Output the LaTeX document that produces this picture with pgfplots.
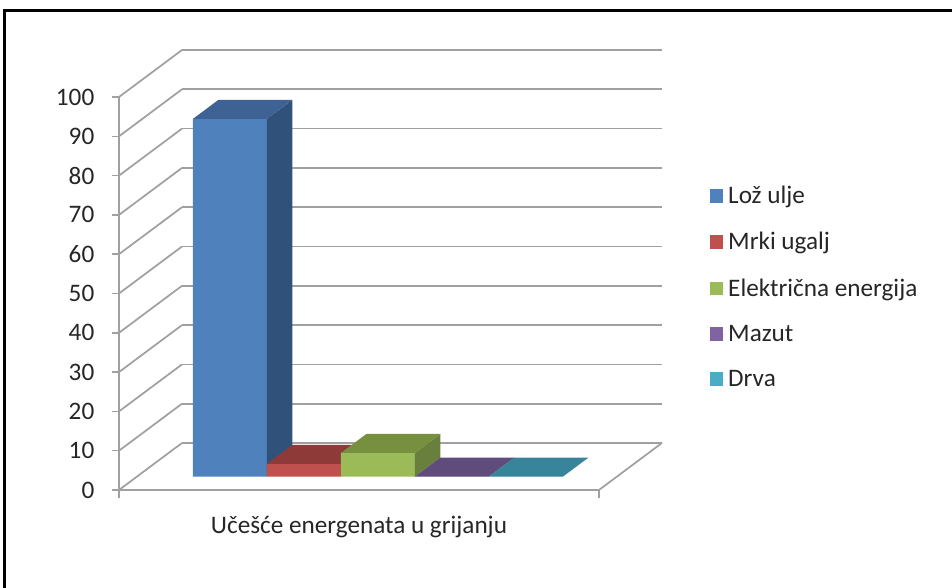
\documentclass[border=0pt]{standalone}
\usepackage{fontspec}
\setmainfont{Carlito}
\usepackage{pgfplots}
\pgfplotsset{compat=1.18}

\definecolor{gridc}{HTML}{A0A0A0}
\definecolor{txt}{HTML}{262626}
\definecolor{bfront}{HTML}{4F81BD}
\definecolor{btop}{HTML}{3D6293}
\definecolor{bside}{HTML}{30527A}
\definecolor{rfront}{HTML}{C0504D}
\definecolor{rtop}{HTML}{8E3A38}
\definecolor{rside}{HTML}{7F3331}
\definecolor{gfront}{HTML}{9BBB59}
\definecolor{gtop}{HTML}{76903F}
\definecolor{gside}{HTML}{687F3D}
\definecolor{pfront}{HTML}{8064A2}
\definecolor{ptop}{HTML}{604B7D}
\definecolor{pside}{HTML}{54426E}
\definecolor{tfront}{HTML}{4BACC6}
\definecolor{ttop}{HTML}{38849B}
\definecolor{tside}{HTML}{307488}

% one bar: x0, x1, value, front colour, top colour, side colour
\newcommand{\onebar}[6]{%
  \addplot3[fill=#4, draw=none] coordinates {(#1,0.287,0) (#2,0.287,0) (#2,0.287,#3) (#1,0.287,#3) (#1,0.287,0)};
  \addplot3[fill=#6, draw=none, forget plot] coordinates {(#2,0.287,0) (#2,0.69,0) (#2,0.69,#3) (#2,0.287,#3) (#2,0.287,0)};
  \addplot3[fill=#5, draw=none, forget plot] coordinates {(#1,0.287,#3) (#2,0.287,#3) (#2,0.69,#3) (#1,0.69,#3) (#1,0.287,#3)};
}

\begin{document}
\begin{tikzpicture}
\path[use as bounding box] (0pt,0pt) rectangle (714pt,441pt);
\draw[black, line width=1.8pt] (3.5pt,-20pt) rectangle (740pt,433pt);
\begin{axis}[
    at={(89.25pt,73.5pt)}, anchor=origin,
    x={(55.5pt,0pt)}, y={(47.25pt,35.25pt)}, z={(0pt,2.9475pt)},
    xmin=0, xmax=6.486, ymin=0, ymax=1, zmin=0, zmax=100,
    clip=false,
    axis line style={draw=none},
    ztick={0,10,...,100},
    ztick pos=left,
    zmajorgrids,
    major grid style={gridc, line width=1.3pt},
    zticklabel pos=left,
    ytick=\empty,
    xtick={3.243},
    xticklabels={Učešće energenata u grijanju},
    tick style={draw=none},
    major tick length=0pt,
    tick label style={font=\fontsize{18.9}{20}\selectfont, text=txt},
    zticklabel style={anchor=east, xshift=-15pt, yshift=0pt},
    xticklabel style={anchor=north, xshift=0pt, yshift=-16pt},
    /pgf/number format/assume math mode=true,
    legend style={at={(1.081,0.461)}, anchor=west, draw=none, fill=none,
      font=\fontsize{18.9}{20}\selectfont, text=txt,
      row sep=16.2pt, cells={anchor=west}},
    legend image code/.code={\fill[#1] (0pt,-5.2pt) rectangle (9.75pt,5.2pt); \path (0pt,0pt) -- (11.5pt,0pt);},
]
% floor edges and the value axis
\addplot3[gridc, line width=1.3pt, forget plot] coordinates {(0,0,0) (6.486,0,0) (6.486,1,0)};
\addplot3[gridc, line width=1.3pt, forget plot] coordinates {(0,0,0) (0,0,100)};
% the marks: left of the value axis and under the floor's front edge
\pgfplotsinvokeforeach{0,10,...,100}{
  \draw[gridc, line width=1.1pt] (axis cs:0,0,#1) -- ++(-5pt,0pt);
}
\draw[gridc, line width=1.3pt] (axis cs:0,0,0) -- ++(0pt,-6pt);
\draw[gridc, line width=1.3pt] (axis cs:6.486,0,0) -- ++(0pt,-6pt);

\onebar{0.755}{1.755}{91}{bfront}{btop}{bside}
\onebar{1.755}{2.755}{3.2}{rfront}{rtop}{rside}
\onebar{2.755}{3.755}{6}{gfront}{gtop}{gside}
\onebar{3.755}{4.755}{0}{pfront}{ptop}{pside}
\onebar{4.755}{5.755}{0}{tfront}{ttop}{tside}
\legend{Lož ulje, Mrki ugalj, Električna energija, Mazut, Drva}
\end{axis}
\end{tikzpicture}
\end{document}
